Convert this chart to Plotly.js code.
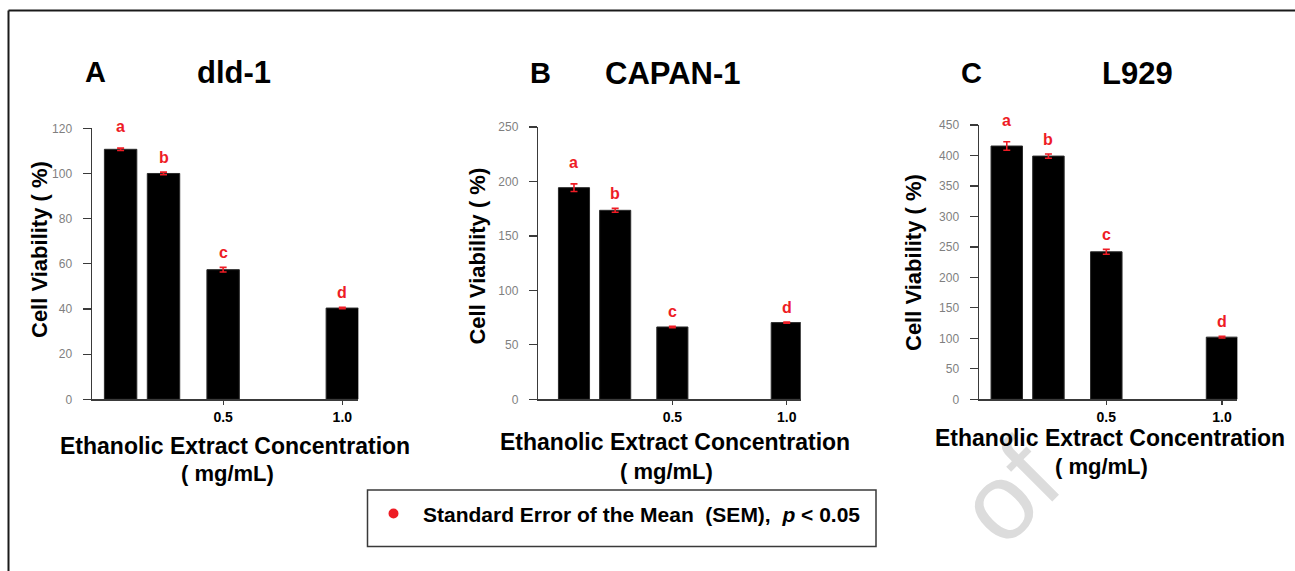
<!DOCTYPE html>
<html>
<head>
<meta charset="utf-8">
<script src="https://cdn.plot.ly/plotly-3.0.1.min.js"></script>
<style>html,body{margin:0;padding:0;background:#fff;}#chart{width:1295px;height:571px;}</style>
</head>
<body>
<div id="chart"></div>
<script>
// ---- data ----
const concentrations = [0.07, 0.25, 0.5, 1.0];      // mg/mL (first two unlabeled)
const xTickVals = [0.5, 1.0];
const xTickText = ['0.5', '1.0'];
const letters = ['a', 'b', 'c', 'd'];

const dldValues = [110.7, 100.0, 57.4, 40.4];
const dldSem = [0.5, 0.6, 1.0, 0.3];
const capanValues = [194.3, 173.5, 66.4, 70.4];
const capanSem = [3.5, 1.8, 0.6, 0.6];
const l929Values = [415.5, 399.0, 242.0, 102.0];
const l929Sem = [7.0, 3.5, 4.0, 1.5];

const panelLetters = ['A', 'B', 'C'];
const cellLines = ['dld-1', 'CAPAN-1', 'L929'];
const yTitle = 'Cell Viability ( %)';
const xTitle1 = 'Ethanolic Extract Concentration';
const xTitle2 = '( mg/mL)';
const legendText = 'Standard Error of the Mean\u00a0 (SEM),\u00a0 <i>p</i> &lt; 0.05';
const watermark = 'of';

// ---- layout helpers (pixel -> paper) ----
const W = 1295, H = 571;
const px = v => v / W;
const py = v => 1 - v / H;
const FONT = 'Liberation Sans, Arial, sans-serif';
const RED = '#ee1c25';

const panels = [
  {vals: dldValues, sem: dldSem, yMax: 120, dtick: 20, x0: 92, x1: 358.3, yTop: 128.3, xr: [-0.05, 1.067],
   titleA: [95, 72], titleB: [234, 72], yt: [39, 250], xt1: [234.5, 445.7], xt2: [227, 473]},
  {vals: capanValues, sem: capanSem, yMax: 250, dtick: 50, x0: 538.3, x1: 800.7, yTop: 127, xr: [-0.086, 1.061],
   titleA: [540, 73], titleB: [673, 73], yt: [476.6, 256], xt1: [674.5, 441.7], xt2: [666.7, 471.7]},
  {vals: l929Values, sem: l929Sem, yMax: 450, dtick: 50, x0: 979, x1: 1237.3, yTop: 125, xr: [-0.05, 1.066],
   titleA: [971, 73], titleB: [1137, 73], yt: [913, 263], xt1: [1110, 438], xt2: [1101.7, 466.7]}
];
const yBottom = 399.3;

const traces = [];
const layout = {
  width: W, height: H,
  margin: {l: 0, r: 0, t: 0, b: 0},
  paper_bgcolor: '#ffffff', plot_bgcolor: 'rgba(0,0,0,0)',
  showlegend: false,
  font: {family: FONT, color: '#000'},
  annotations: [], shapes: []
};

// faint watermark (drawn first so it sits underneath)
layout.annotations.push(
  {xref: 'paper', yref: 'paper', x: px(1008), y: py(492), text: watermark, textangle: -45,
   showarrow: false, xanchor: 'center', yanchor: 'middle', font: {family: FONT, size: 108, color: '#dcdcdc'}}
);

panels.forEach((p, i) => {
  const n = i === 0 ? '' : String(i + 1);
  const xa = 'x' + n, ya = 'y' + n;
  traces.push({
    type: 'bar', x: concentrations, y: p.vals, xaxis: xa, yaxis: ya,
    width: 0.136,
    marker: {color: '#000000', line: {color: '#2a2a2a', width: 1}},
    error_y: {type: 'data', array: p.sem, visible: true, color: RED, thickness: 1.6, width: 3.5},
    hoverinfo: 'skip'
  });
  layout['xaxis' + n] = {
    domain: [px(p.x0), px(p.x1)], range: p.xr, anchor: ya,
    showgrid: false, zeroline: false,
    showline: true, linecolor: '#3a3a3a', linewidth: 1.5,
    ticks: 'outside', ticklen: 4, tickcolor: '#3a3a3a', tickwidth: 1.2,
    tickmode: 'array', tickvals: xTickVals, ticktext: xTickText,
    tickfont: {family: FONT, size: 14, color: '#000', weight: 'bold'},
    fixedrange: true
  };
  layout['yaxis' + n] = {
    domain: [py(yBottom), py(p.yTop)], range: [0, p.yMax], anchor: xa,
    showgrid: false, zeroline: false,
    showline: true, linecolor: '#3a3a3a', linewidth: 1.5,
    ticks: 'outside', ticklen: 8, tickcolor: '#3a3a3a', tickwidth: 1.2,
    tick0: 0, dtick: p.dtick, ticklabelstandoff: 8,
    tickfont: {family: FONT, size: 12, color: '#7f7f7f'},
    fixedrange: true
  };
  // significance letters
  p.vals.forEach((v, k) => {
    layout.annotations.push({
      xref: xa, yref: ya, x: concentrations[k], y: v + p.sem[k],
      text: '<b>' + letters[k] + '</b>', showarrow: false,
      yanchor: 'bottom', yshift: k === 0 ? 11 : 4,
      font: {family: FONT, size: 16, color: RED}
    });
  });
  // titles
  layout.annotations.push(
    {xref: 'paper', yref: 'paper', x: px(p.titleA[0]), y: py(p.titleA[1]), text: '<b>' + panelLetters[i] + '</b>',
     showarrow: false, xanchor: 'center', yanchor: 'middle', font: {family: FONT, size: 29, color: '#000'}},
    {xref: 'paper', yref: 'paper', x: px(p.titleB[0]), y: py(p.titleB[1]), text: '<b>' + cellLines[i] + '</b>',
     showarrow: false, xanchor: 'center', yanchor: 'middle', font: {family: FONT, size: 31, color: '#000'}},
    {xref: 'paper', yref: 'paper', x: px(p.yt[0]), y: py(p.yt[1]), text: '<b>' + yTitle + '</b>', textangle: -90,
     showarrow: false, xanchor: 'center', yanchor: 'middle', font: {family: FONT, size: 22, color: '#000'}},
    {xref: 'paper', yref: 'paper', x: px(p.xt1[0]), y: py(p.xt1[1]), text: '<b>' + xTitle1 + '</b>',
     showarrow: false, xanchor: 'center', yanchor: 'middle', font: {family: FONT, size: 23, color: '#000'}},
    {xref: 'paper', yref: 'paper', x: px(p.xt2[0]), y: py(p.xt2[1]), text: '<b>' + xTitle2 + '</b>',
     showarrow: false, xanchor: 'center', yanchor: 'middle', font: {family: FONT, size: 22, color: '#000'}}
  );
});

// legend box
layout.shapes.push(
  {type: 'rect', xref: 'paper', yref: 'paper', x0: px(367.5), x1: px(876), y0: py(546.5), y1: py(490),
   line: {color: '#3a3a3a', width: 1.5}, fillcolor: 'rgba(0,0,0,0)'},
  {type: 'circle', xref: 'paper', yref: 'paper', x0: px(388.5), x1: px(398.5), y0: py(518.5), y1: py(508.5),
   line: {width: 0}, fillcolor: RED},
  // outer frame
  {type: 'line', xref: 'paper', yref: 'paper', x0: px(8.5), x1: 1, y0: py(10.5), y1: py(10.5), line: {color: '#1a1a1a', width: 2}},
  {type: 'line', xref: 'paper', yref: 'paper', x0: px(8.5), x1: px(8.5), y0: py(10.5), y1: 0, line: {color: '#1a1a1a', width: 2}}
);
layout.annotations.push(
  {xref: 'paper', yref: 'paper', x: px(421), y: py(514), text: '<b>' + legendText + '</b>',
   showarrow: false, xanchor: 'left', yanchor: 'middle', font: {family: FONT, size: 21, color: '#000'}}
);

Plotly.newPlot('chart', traces, layout, {displayModeBar: false, staticPlot: true});
</script>
</body>
</html>
